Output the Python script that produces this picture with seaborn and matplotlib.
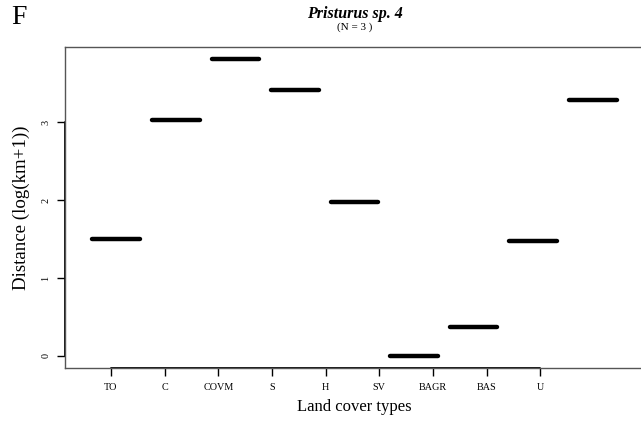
import numpy as np
import pandas as pd
import matplotlib
matplotlib.use("Agg")
import matplotlib.pyplot as plt
import seaborn as sns

# data
land_cover = ['TO', 'C', 'COVM', 'S', 'H', 'SV', 'BAGR', 'BAS', 'U']
distance = [1.50, 3.03, 3.81, 3.42, 1.97, 0.0, 0.37, 1.47, 3.29]
y_ticks = [0, 1, 2, 3]

df = pd.DataFrame({'cover': land_cover, 'dist': distance})

sns.set_theme(style='ticks')
plt.rcParams['font.family'] = ['Liberation Serif', 'DejaVu Serif']
plt.rcParams['text.color'] = 'black'
plt.rcParams['axes.labelcolor'] = 'black'
plt.rcParams['xtick.color'] = 'black'
plt.rcParams['ytick.color'] = 'black'

fig = plt.figure(figsize=(6.41, 4.21), dpi=100)
W, H = 641, 421
ax = fig.add_axes([65 / W, 1 - 367.7 / H, 579 / W, 320.4 / H])

sns.boxplot(data=df, x='cover', y='dist', order=land_cover, ax=ax,
            color='white', width=0.8, linewidth=1,
            boxprops=dict(edgecolor='black', facecolor='white'),
            whiskerprops=dict(color='black'),
            capprops=dict(color='black', linewidth=0),
            medianprops=dict(color='black', linewidth=3.2, solid_capstyle='round'),
            showfliers=False)

n = len(land_cover)
ax.set_xlim(-0.86, n - 1 + 0.86)
ax.set_ylim(-0.152, 3.962)

# the axis ticks in the original sit on a slightly narrower scale than the boxes
tick_scale = 0.901
xt = -0.089 + tick_scale * np.arange(n)
ax.set_xticks(xt)
ax.set_xticklabels(land_cover, fontsize=7.3)
ax.set_yticks(y_ticks)
ax.set_yticklabels([str(t) for t in y_ticks], fontsize=7.3, rotation=90, va='center')

ax.tick_params(axis='both', which='major', direction='out', length=5.5, width=1.0,
               colors='black', bottom=True, left=True, top=False, right=False)
ax.tick_params(axis='x', pad=5.5)
ax.tick_params(axis='y', pad=5)

for s in ax.spines.values():
    s.set_visible(True)
    s.set_color('#555555')
    s.set_linewidth(1.0)

# darker axis lines between first and last tick, as R draws them
ax.plot([xt[0], xt[-1]], [-0.152, -0.152], color='black', lw=1.3, clip_on=False)
ax.plot([-0.86, -0.86], [0, 3], color='black', lw=1.3, clip_on=False)

ax.set_xlabel('Land cover types', fontsize=12, labelpad=5)
ax.set_ylabel('Distance (log(km+1))', fontsize=13.6, labelpad=8)

fig.text(355 / W, 1 - 14 / H, 'Pristurus sp. 4', ha='center', va='center',
         fontsize=11.5, fontweight='bold', fontstyle='italic')
fig.text(355 / W, 1 - 27 / H, '(N = 3 )', ha='center', va='center', fontsize=8)
fig.text(19 / W, 1 - 17 / H, 'F', ha='center', va='center', fontsize=20)

fig.savefig('out.png', dpi=100)
